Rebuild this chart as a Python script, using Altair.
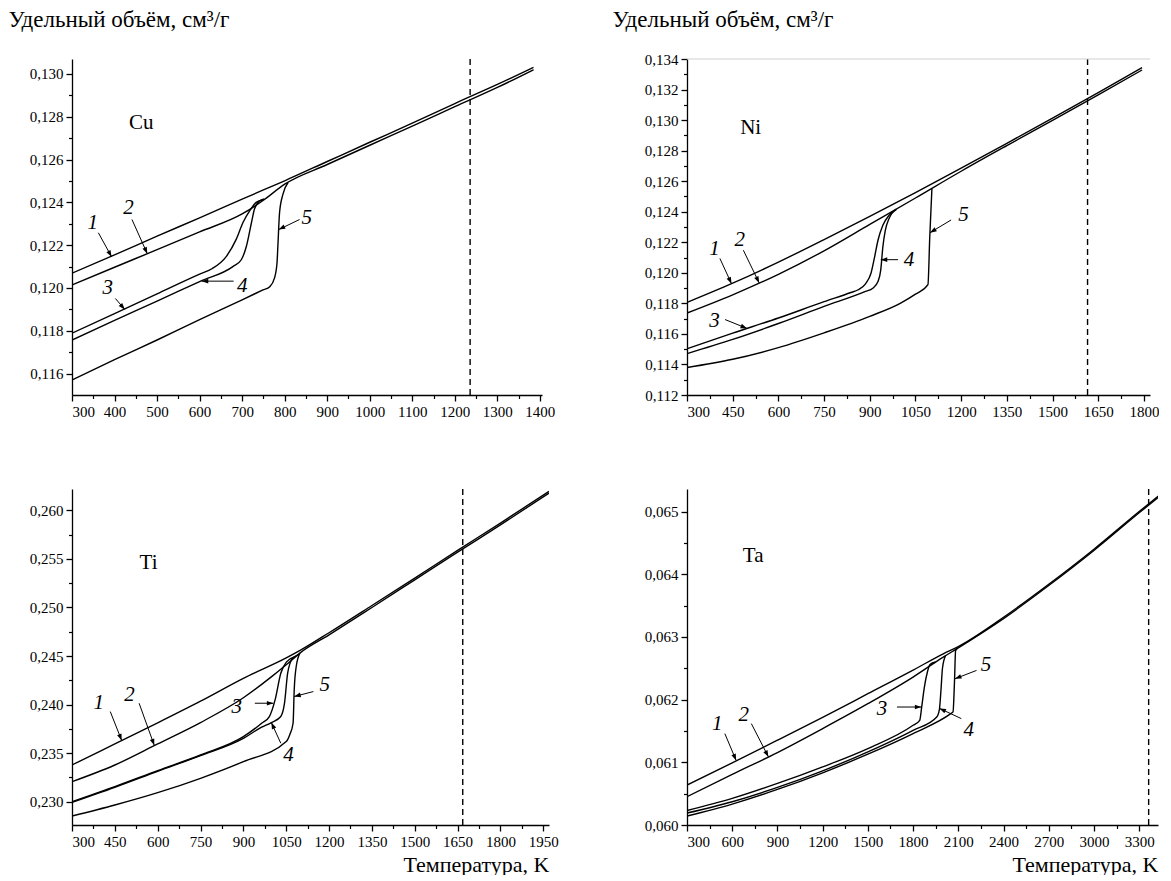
import math
import altair as alt
import pandas as pd

FONT = "Liberation Serif"

# ---------------- Cu ----------------
cu_t1 = [300, 400, 500, 600, 700, 750, 800, 900, 1000, 1100, 1200, 1300, 1385]
cu_v1 = [0.12069, 0.12155, 0.12242, 0.12328, 0.12415, 0.12458, 0.12501, 0.12591, 0.12681, 0.12770, 0.12862, 0.12951, 0.13031]
cu_t2 = [300, 400, 500, 600, 700, 750, 800, 900, 1000, 1100, 1200, 1300, 1385]
cu_v2 = [0.12014, 0.12097, 0.12179, 0.12262, 0.12346, 0.12410, 0.12485, 0.12577, 0.12667, 0.12756, 0.12847, 0.12937, 0.13020]
cu_t3 = [300, 400, 500, 600, 630, 663, 686, 702, 718, 733, 749]
cu_v3 = [0.11789, 0.11880, 0.11973, 0.12065, 0.12091, 0.12148, 0.12227, 0.12306, 0.12361, 0.12400, 0.12412]
cu_t4 = [300, 400, 500, 600, 679, 698, 710, 722, 729, 740, 752]
cu_v4 = [0.11757, 0.11849, 0.11939, 0.12030, 0.12101, 0.12132, 0.12195, 0.12306, 0.12369, 0.12405, 0.12416]
cu_t5 = [300, 400, 500, 600, 700, 749, 765, 776, 782, 784, 788, 796, 808]
cu_v5 = [0.11570, 0.11665, 0.11757, 0.11852, 0.11945, 0.11991, 0.12006, 0.12046, 0.12117, 0.12195, 0.12353, 0.12439, 0.12493]
cu_melt = 1236
cu_lab_t = [349, 433, 384, 700, 852]
cu_lab_v = [0.12305, 0.12375, 0.11998, 0.12010, 0.12328]
cu_tail_t = [362, 441, 402, 680, 835]
cu_tail_v = [0.12258, 0.12320, 0.11951, 0.12032, 0.12320]
cu_tip_t = [393, 477, 424, 605, 786]
cu_tip_v = [0.12146, 0.12160, 0.11900, 0.12032, 0.12273]
cu_xticks = [300, 400, 500, 600, 700, 800, 900, 1000, 1100, 1200, 1300, 1400]
cu_xminor = [350, 450, 550, 650, 750, 850, 950, 1050, 1150, 1250, 1350]
cu_yticks = [0.116, 0.118, 0.120, 0.122, 0.124, 0.126, 0.128, 0.130]
cu_yminor = [0.117, 0.119, 0.121, 0.123, 0.125, 0.127, 0.129]

# ---------------- Ni ----------------
ni_t1 = [300, 450, 600, 750, 900, 1050, 1200, 1350, 1500, 1650, 1794]
ni_v1 = [0.11806, 0.11932, 0.12070, 0.12218, 0.12370, 0.12525, 0.12685, 0.12848, 0.13013, 0.13180, 0.13343]
ni_t2 = [300, 450, 600, 750, 900, 1050, 1200, 1350, 1500, 1650, 1794]
ni_v2 = [0.11737, 0.11856, 0.11990, 0.12144, 0.12317, 0.12490, 0.12665, 0.12833, 0.12998, 0.13165, 0.13328]
ni_t3 = [300, 450, 600, 750, 838, 862, 886, 904, 916, 927, 943, 963, 987]
ni_v3 = [0.11503, 0.11605, 0.11704, 0.11811, 0.11871, 0.11889, 0.11928, 0.11997, 0.12105, 0.12213, 0.12311, 0.12376, 0.12415]
ni_t4 = [300, 450, 600, 750, 886, 910, 927, 936, 943, 951, 963, 987]
ni_v4 = [0.11471, 0.11564, 0.11668, 0.11780, 0.11878, 0.11899, 0.11943, 0.12018, 0.12170, 0.12278, 0.12354, 0.12415]
ni_t5 = [300, 450, 600, 750, 900, 1000, 1050, 1091, 1097, 1104]
ni_v5 = [0.11380, 0.11434, 0.11510, 0.11607, 0.11715, 0.11800, 0.11860, 0.11922, 0.12236, 0.12550]
ni_melt = 1615
ni_lab_t = [390, 473, 390, 1029, 1208]
ni_lab_v = [0.12159, 0.12213, 0.11683, 0.12086, 0.12378]
ni_tail_t = [408, 485, 425, 993, 1167]
ni_tail_v = [0.12094, 0.12148, 0.11694, 0.12086, 0.12346]
ni_tip_t = [446, 537, 497, 936, 1098]
ni_tip_v = [0.11929, 0.11934, 0.11636, 0.12086, 0.12263]
ni_xticks = [300, 450, 600, 750, 900, 1050, 1200, 1350, 1500, 1650, 1800]
ni_xminor = [375, 525, 675, 825, 975, 1125, 1275, 1425, 1575, 1725]
ni_yticks = [0.112, 0.114, 0.116, 0.118, 0.120, 0.122, 0.124, 0.126, 0.128, 0.130, 0.132, 0.134]
ni_yminor = [0.113, 0.115, 0.117, 0.119, 0.121, 0.123, 0.125, 0.127, 0.129, 0.131, 0.133]

# ---------------- Ti ----------------
ti_t1 = [300, 450, 600, 750, 900, 1050, 1100, 1200, 1350, 1500, 1650, 1800, 1970]
ti_v1 = [0.23378, 0.23595, 0.23812, 0.24035, 0.24270, 0.24480, 0.24560, 0.24740, 0.25020, 0.25303, 0.25588, 0.25869, 0.26196]
ti_t2 = [300, 450, 600, 750, 900, 1000, 1050, 1100, 1200, 1350, 1500, 1650, 1800, 1970]
ti_v2 = [0.23206, 0.23378, 0.23595, 0.23815, 0.24070, 0.24290, 0.24410, 0.24535, 0.24718, 0.25000, 0.25285, 0.25570, 0.25850, 0.26178]
ti_t3 = [300, 450, 600, 750, 900, 964, 991, 1011, 1031, 1051, 1078]
ti_v3 = [0.23000, 0.23155, 0.23320, 0.23481, 0.23670, 0.23808, 0.23877, 0.24048, 0.24323, 0.24440, 0.24490]
ti_t4 = [300, 450, 600, 750, 900, 964, 998, 1031, 1044, 1055, 1071, 1091]
ti_v4 = [0.22993, 0.23148, 0.23313, 0.23474, 0.23653, 0.23767, 0.23815, 0.23877, 0.24014, 0.24323, 0.24470, 0.24512]
ti_t5 = [300, 450, 600, 750, 900, 1050, 1062, 1074, 1078, 1085, 1098]
ti_v5 = [0.22852, 0.22966, 0.23093, 0.23241, 0.23413, 0.23619, 0.23688, 0.23808, 0.24151, 0.24392, 0.24530]
ti_melt = 1668
ti_lab_t = [394, 501, 877, 1058, 1185]
ti_lab_v = [0.24014, 0.24100, 0.23980, 0.23481, 0.24203]
ti_tail_t = [434, 535, 940, 1031, 1145]
ti_tail_v = [0.23928, 0.24014, 0.24014, 0.23602, 0.24134]
ti_tip_t = [474, 588, 1005, 998, 1078]
ti_tip_v = [0.23630, 0.23580, 0.24014, 0.23815, 0.24083]
ti_xticks = [300, 450, 600, 750, 900, 1050, 1200, 1350, 1500, 1650, 1800, 1950]
ti_xminor = [375, 525, 675, 825, 975, 1125, 1275, 1425, 1575, 1725, 1875]
ti_yticks = [0.230, 0.235, 0.240, 0.245, 0.250, 0.255, 0.260]
ti_yminor = [0.2325, 0.2375, 0.2425, 0.2475, 0.2525, 0.2575]

# ---------------- Ta ----------------
ta_t1 = [300, 600, 900, 1200, 1500, 1800, 2000, 2100, 2400, 2700, 3000, 3300, 3426]
ta_v1 = [0.060636, 0.060991, 0.061352, 0.061718, 0.062094, 0.062471, 0.062731, 0.062847, 0.063314, 0.063840, 0.064400, 0.065000, 0.065246]
ta_t2 = [300, 600, 900, 1200, 1500, 1800, 2000, 2100, 2400, 2700, 3000, 3300, 3426]
ta_v2 = [0.060451, 0.060806, 0.061156, 0.061538, 0.061935, 0.062360, 0.062678, 0.062826, 0.063293, 0.063820, 0.064380, 0.064980, 0.065225]
ta_t3 = [300, 600, 900, 1200, 1500, 1800, 1844, 1857, 1875, 1895, 1912, 1950]
ta_v3 = [0.060230, 0.060424, 0.060663, 0.060928, 0.061220, 0.061591, 0.061670, 0.061880, 0.062200, 0.062440, 0.062560, 0.062600]
ta_t4 = [300, 600, 900, 1200, 1500, 1800, 1957, 1975, 1985, 1995, 2015]
ta_v4 = [0.060190, 0.060371, 0.060599, 0.060864, 0.061167, 0.061511, 0.061723, 0.061850, 0.062150, 0.062500, 0.062700]
ta_t5 = [300, 600, 900, 1200, 1500, 1800, 2050, 2065, 2075, 2082, 2095]
ta_v5 = [0.060143, 0.060334, 0.060567, 0.060833, 0.061129, 0.061458, 0.061776, 0.061803, 0.062306, 0.062780, 0.062820]
ta_melt = 3363
ta_lab_t = [501, 677, 1593, 2170, 2283]
ta_lab_v = [0.061617, 0.061750, 0.061856, 0.061511, 0.062545]
ta_tail_t = [551, 727, 1693, 2120, 2221]
ta_tail_v = [0.061458, 0.061617, 0.061882, 0.061697, 0.062466]
ta_tip_t = [626, 840, 1855, 1975, 2078]
ta_tip_v = [0.061030, 0.061087, 0.061882, 0.061860, 0.062333]
ta_xticks = [300, 600, 900, 1200, 1500, 1800, 2100, 2400, 2700, 3000, 3300]
ta_xminor = [450, 750, 1050, 1350, 1650, 1950, 2250, 2550, 2850, 3150]
ta_yticks = [0.060, 0.061, 0.062, 0.063, 0.064, 0.065]
ta_yminor = [0.0605, 0.0615, 0.0625, 0.0635, 0.0645]

curve_names = ["1", "2", "3", "4", "5"]
Y_TITLE = "Удельный объём, см³/г"
X_TITLE = "Температура, K"
ARROW_PATH = "M0,0L-1,-0.36L-1,0.36Z"
LABEL_EXPR = "replace(format(datum.value, '.3f'), '.', ',')"


def panel(curves, melt, lab_t, lab_v, tail_t, tail_v, tip_t, tip_v,
          elem, elem_t, elem_v, xdom, ydom, xt, xm, yt, ym, w, h,
          ytitle_x=None, xtitle=False, topline=False):
    rows = []
    for name, (ts, vs) in zip(curve_names, curves):
        for t, v in zip(ts, vs):
            rows.append({"T": t, "V": v, "c": name})
    df = pd.DataFrame(rows)

    sx = w / (xdom[1] - xdom[0])
    sy = h / (ydom[1] - ydom[0])
    angs = []
    for a, b, c, d in zip(tail_t, tail_v, tip_t, tip_v):
        dx = (c - a) * sx
        dy = -(d - b) * sy
        angs.append(math.degrees(math.atan2(dy, dx)) % 360)
    adf = pd.DataFrame({"T1": tail_t, "V1": tail_v, "T2": tip_t, "V2": tip_v, "ang": angs})
    ldf = pd.DataFrame({"T": lab_t, "V": lab_v, "s": curve_names})
    edf = pd.DataFrame({"T": [elem_t], "V": [elem_v], "s": [elem]})
    mdf = pd.DataFrame({"T": [melt]})

    xs = alt.Scale(domain=xdom, nice=False, zero=False)
    ys = alt.Scale(domain=ydom, nice=False, zero=False)

    common = dict(grid=False, domainColor="black", tickColor="black",
                  domainWidth=1.3, tickWidth=1.3, labelFont=FONT,
                  labelFontSize=15, labelColor="black")
    xkw = dict(values=xt, format="d", tickSize=6, labelPadding=3,
               labelOverlap=False, orient="bottom", **common)
    if xtitle:
        xkw.update(title=X_TITLE, titleX=w, titleY=46, titleAlign="right",
                   titleBaseline="alphabetic", titleFont=FONT, titleFontSize=22,
                   titleFontWeight="normal", titleColor="black")
    else:
        xkw["title"] = None
    ykw = dict(values=yt, labelExpr=LABEL_EXPR, tickSize=6, labelPadding=3,
               labelOverlap=False, orient="left", **common)
    if ytitle_x is not None:
        ykw.update(title=Y_TITLE, titleAngle=0, titleX=ytitle_x, titleY=-51,
                   titleAlign="left", titleBaseline="top", titleFont=FONT,
                   titleFontSize=23, titleFontWeight="normal", titleColor="black")
    else:
        ykw["title"] = None

    xminor = alt.Axis(values=xm, labels=False, domain=False, tickSize=3.5,
                      tickColor="black", tickWidth=1.2, grid=False, title=None,
                      orient="bottom")
    yminor = alt.Axis(values=ym, labels=False, domain=False, tickSize=3.5,
                      tickColor="black", tickWidth=1.2, grid=False, title=None,
                      orient="left")

    lines = alt.Chart(df).mark_line(
        color="black", strokeWidth=1.4, interpolate="monotone", clip=True
    ).encode(
        x=alt.X("T:Q", scale=xs, axis=alt.Axis(**xkw)),
        y=alt.Y("V:Q", scale=ys, axis=alt.Axis(**ykw)),
        detail="c:N",
    )
    arrows = alt.Chart(adf).mark_rule(color="black", strokeWidth=1).encode(
        x=alt.X("T1:Q", scale=xs, axis=xminor),
        y=alt.Y("V1:Q", scale=ys, axis=yminor),
        x2="T2:Q",
        y2="V2:Q",
    )
    heads = alt.Chart(adf).mark_point(
        shape=ARROW_PATH, filled=True, color="black", size=170, opacity=1, strokeWidth=0
    ).encode(
        x=alt.X("T2:Q", scale=xs, axis=None),
        y=alt.Y("V2:Q", scale=ys, axis=None),
        angle=alt.Angle("ang:Q", scale=None),
    )
    labels = alt.Chart(ldf).mark_text(
        font=FONT, fontSize=21, fontStyle="italic", color="black"
    ).encode(
        x=alt.X("T:Q", scale=xs, axis=None),
        y=alt.Y("V:Q", scale=ys, axis=None),
        text="s:N",
    )
    elem_txt = alt.Chart(edf).mark_text(font=FONT, fontSize=21, color="black").encode(
        x=alt.X("T:Q", scale=xs, axis=None),
        y=alt.Y("V:Q", scale=ys, axis=None),
        text="s:N",
    )
    dashed = alt.Chart(mdf).mark_rule(
        color="black", strokeDash=[6, 4], strokeWidth=1.4
    ).encode(
        x=alt.X("T:Q", scale=xs, axis=None),
        y=alt.YDatum(ydom[0], scale=ys, axis=None),
        y2=alt.Y2Datum(ydom[1]),
    )
    layers = [lines, arrows, heads, labels, elem_txt, dashed]
    if topline:
        top = alt.Chart(mdf).mark_rule(color="#cfcfcf", strokeWidth=1).encode(
            x=alt.XDatum(xdom[0], scale=xs, axis=None),
            x2=alt.X2Datum(xdom[1]),
            y=alt.YDatum(ydom[1], scale=ys, axis=None),
        )
        layers.append(top)
    return alt.layer(*layers).resolve_axis(x="independent", y="independent").properties(
        width=w, height=h
    )


cu = panel([(cu_t1, cu_v1), (cu_t2, cu_v2), (cu_t3, cu_v3), (cu_t4, cu_v4), (cu_t5, cu_v5)],
           cu_melt, cu_lab_t, cu_lab_v, cu_tail_t, cu_tail_v, cu_tip_t, cu_tip_v,
           "Cu", 463, 0.12769, [300, 1405], [0.1150, 0.1307],
           cu_xticks, cu_xminor, cu_yticks, cu_yminor, 470, 336, ytitle_x=-64)
ni = panel([(ni_t1, ni_v1), (ni_t2, ni_v2), (ni_t3, ni_v3), (ni_t4, ni_v4), (ni_t5, ni_v5)],
           ni_melt, ni_lab_t, ni_lab_v, ni_tail_t, ni_tail_v, ni_tip_t, ni_tip_v,
           "Ni", 509, 0.12950, [300, 1820], [0.112, 0.134],
           ni_xticks, ni_xminor, ni_yticks, ni_yminor, 463, 336, ytitle_x=-75, topline=True)
ti = panel([(ti_t1, ti_v1), (ti_t2, ti_v2), (ti_t3, ti_v3), (ti_t4, ti_v4), (ti_t5, ti_v5)],
           ti_melt, ti_lab_t, ti_lab_v, ti_tail_t, ti_tail_v, ti_tip_t, ti_tip_v,
           "Ti", 568, 0.25457, [300, 1970], [0.2276, 0.2622],
           ti_xticks, ti_xminor, ti_yticks, ti_yminor, 477, 336, xtitle=True)
ta = panel([(ta_t1, ta_v1), (ta_t2, ta_v2), (ta_t3, ta_v3), (ta_t4, ta_v4), (ta_t5, ta_v5)],
           ta_melt, ta_lab_t, ta_lab_v, ta_tail_t, ta_tail_v, ta_tip_t, ta_tip_v,
           "Ta", 739, 0.064295, [300, 3425], [0.060, 0.06536],
           ta_xticks, ta_xminor, ta_yticks, ta_yminor, 471, 336, xtitle=True)

chart = (
    alt.concat(cu, ni, ti, ta, columns=2, spacing={"row": 94, "column": 138}, bounds="flush")
    .properties(padding=0, background="white")
    .configure(font=FONT)
    .configure_view(stroke=None)
    .configure_axis(labelFont=FONT, titleFont=FONT, labelFontSize=15, labelColor="black")
    .configure_text(font=FONT)
)

chart.save("out.html", embed_options={"renderer": "svg", "actions": False})
